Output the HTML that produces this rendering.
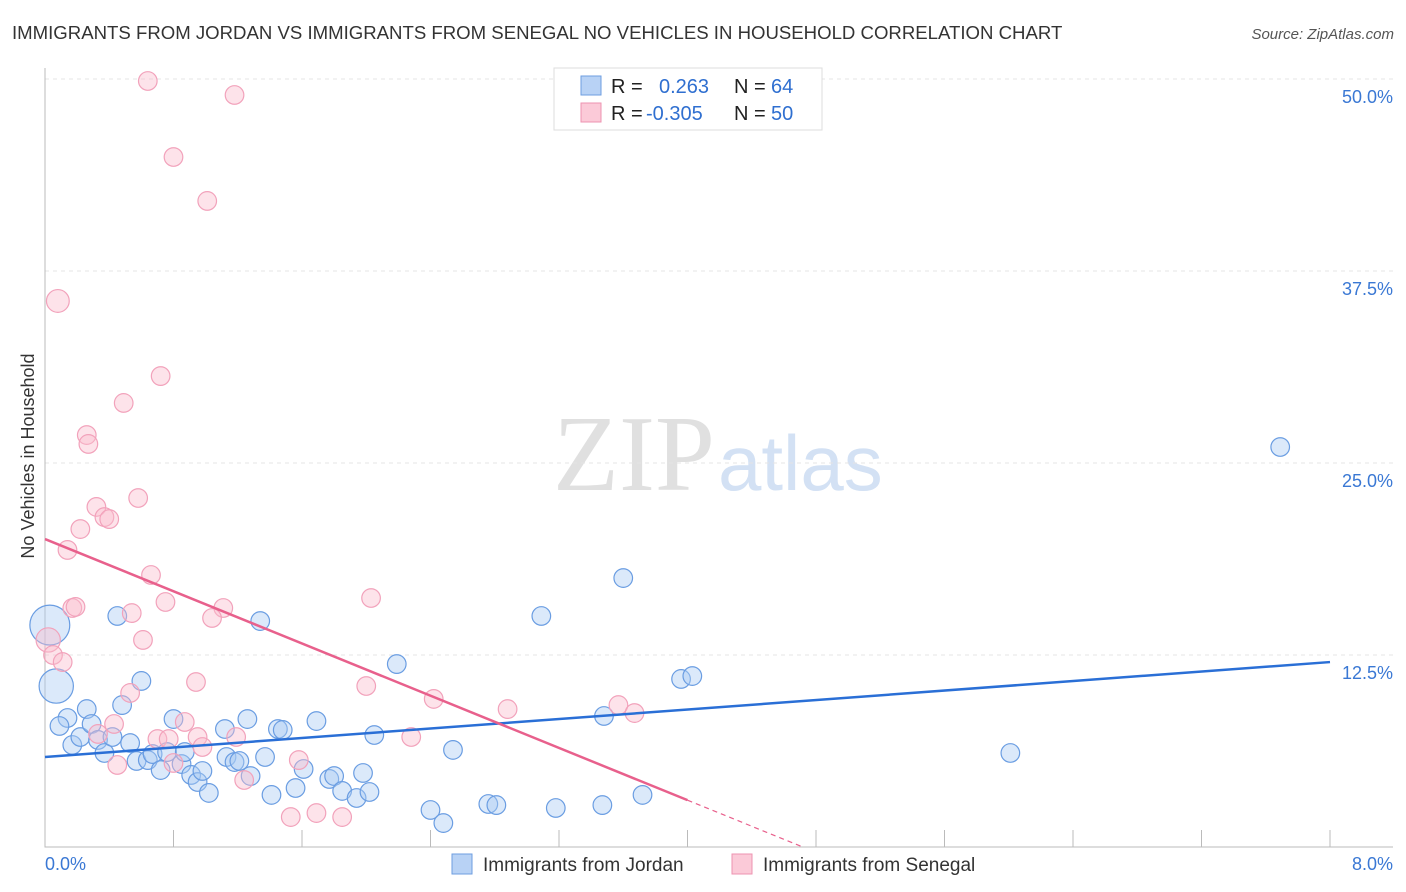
<!DOCTYPE html>
<html><head><meta charset="utf-8"><style>
body{margin:0;background:#fff;font-family:"Liberation Sans",sans-serif;}
svg{display:block}
</style></head><body>
<svg id="c" width="1406" height="892" xmlns="http://www.w3.org/2000/svg">
<text x="12" y="39" font-size="18.6" fill="#333">IMMIGRANTS FROM JORDAN VS IMMIGRANTS FROM SENEGAL NO VEHICLES IN HOUSEHOLD CORRELATION CHART</text>
<text x="1394" y="39" font-size="15" fill="#555" font-style="italic" text-anchor="end">Source: ZipAtlas.com</text>
<g><text x="553" y="490" font-family="Liberation Serif,serif" font-size="108" fill="#e0e0e0">ZIP</text><text x="718" y="490" font-size="78" fill="#d3e1f4">atlas</text></g>
<text transform="translate(34,456) rotate(-90)" font-size="18" fill="#333" text-anchor="middle">No Vehicles in Household</text>
<g id="grid"></g><g id="axes"></g><g id="pts"></g><g id="trend"></g>
<g>
<rect x="554" y="68" width="268" height="62" fill="#fff" stroke="#ddd"/>
<rect x="581" y="76" width="20" height="19" fill="#b8d2f5" stroke="#6e9ee0"/>
<rect x="581" y="103" width="20" height="19" fill="#fbcad8" stroke="#ee93b0"/>
<text x="611" y="93" font-size="20" fill="#222">R = <tspan x="659" fill="#2f6fd0">0.263</tspan><tspan x="734" fill="#222">N = </tspan><tspan x="771" fill="#2f6fd0">64</tspan></text>
<text x="611" y="120" font-size="20" fill="#222">R = <tspan x="646" fill="#2f6fd0">-0.305</tspan><tspan x="734" fill="#222">N = </tspan><tspan x="771" fill="#2f6fd0">50</tspan></text>
</g>
<g>
<rect x="452" y="854" width="20" height="20" fill="#b8d2f5" stroke="#6e9ee0"/>
<text x="483" y="871" font-size="19" fill="#333">Immigrants from Jordan</text>
<rect x="732" y="854" width="20" height="20" fill="#fbcad8" stroke="#ee93b0"/>
<text x="763" y="871" font-size="19" fill="#333">Immigrants from Senegal</text>
</g>
</svg>
<script>
const xTicks=[0,1,2,3,4,5,6,7,8];
const yTicks=[12.5,25,37.5,50];
const yTickLabels=["12.5%","25.0%","37.5%","50.0%"];
const jordanX=[.03,.07,.14,.09,.17,.26,.22,.29,.33,.37,.48,.42,.45,.53,.57,.60,.64,.67,.72,.80,.76,.85,.87,.91,.95,.98,1.02,1.12,1.13,1.18,1.21,1.26,1.28,1.34,1.37,1.41,1.45,1.48,1.56,1.61,1.69,1.77,1.80,1.85,1.94,1.98,2.02,2.05,2.19,2.40,2.48,2.54,2.76,2.81,3.09,3.18,3.47,3.48,3.60,3.72,3.96,4.03,6.01,7.69];
const jordanY=[14.45,10.48,8.40,7.88,6.64,8.98,7.16,8.01,6.97,6.12,9.24,7.16,15.04,6.77,5.60,10.81,5.66,6.05,5.01,8.33,6.18,5.40,6.18,4.69,4.23,4.95,3.52,7.68,5.86,5.53,5.60,8.33,4.62,14.71,5.86,3.39,7.68,7.62,3.84,5.08,8.20,4.43,4.62,3.65,3.19,4.82,3.58,7.29,11.91,2.41,1.56,6.32,2.80,2.73,15.04,2.54,2.73,8.53,17.51,3.39,10.94,11.13,6.12,26.04];
const jordanWeight=[4.6,3.4];
const senegalX=[.64,1.18,.80,1.01,.08,.72,.49,.26,.27,.58,.32,.37,.40,.22,.14,.66,2.03,.75,.17,.19,.54,1.11,1.04,.02,.05,.11,.61,.94,2.00,.53,2.42,2.88,3.57,3.67,.43,.87,.33,.70,.77,1.19,.95,.98,.80,2.28,1.58,1.24,.45,1.53,1.69,1.85];
const senegalY=[49.87,48.96,44.92,42.06,35.55,30.66,28.91,26.82,26.24,22.72,22.14,21.48,21.35,20.70,19.34,17.71,16.21,15.95,15.56,15.63,15.23,15.56,14.91,13.48,12.50,12.04,13.48,10.74,10.48,10.03,9.64,8.98,9.24,8.72,8.01,8.14,7.36,7.03,7.03,7.16,7.16,6.51,5.47,7.16,5.66,4.36,5.34,1.95,2.21,1.95];
const senegalWeight=[1,1,1,1,1.5,1,1,1,1,1,1,1,1,1,1,1,1,1,1,1,1,1,1,1.7];
const jordanTrend=[5.86,12.04];
const senegalTrend=[20.05,-4.25];
const NS="http://www.w3.org/2000/svg";
const X=v=>45+v/8*1285, Y=v=>847-v/12.5*192;
function mk(t,a,p){const e=document.createElementNS(NS,t);for(const k in a)e.setAttribute(k,a[k]);p.appendChild(e);return e;}
const grid=document.getElementById('grid'),axes=document.getElementById('axes'),pts=document.getElementById('pts'),tr=document.getElementById('trend');
yTicks.forEach((t,i)=>{
 const l=mk('line',{x1:45,x2:1393,y1:Y(t),y2:Y(t),stroke:'#e4e4e4','stroke-dasharray':'4,4'},grid);
 
 
 const tx=mk('text',{x:1393,y:Y(t)+24,'font-size':18,fill:'#3a78d4','text-anchor':'end'},grid);
 tx.textContent=yTickLabels[i];
 
 
});
const ax=mk('path',{d:'M45,68V847H1393',fill:'none',stroke:'#bbb'},axes);


for(let v=0;v<=8.01;v+=0.8){
 const tk=mk('line',{x1:X(v),x2:X(v),y1:830,y2:847,stroke:'#bbb'},axes);
 
 
}
const xl0=mk('text',{x:45,y:870,'font-size':18,fill:'#3a78d4'},axes);xl0.textContent=xTicks[0].toFixed(1)+'%';


const xl1=mk('text',{x:1393,y:870,'font-size':18,fill:'#3a78d4','text-anchor':'end'},axes);xl1.textContent=xTicks[8].toFixed(1)+'%';


jordanX.forEach((v,i)=>{
 const w=jordanWeight[i]||1;
 const c=mk('circle',{cx:X(v),cy:Y(jordanY[i]),r:9.3*Math.sqrt(w),fill:'rgba(170,202,242,0.42)',stroke:'#6a9de2','stroke-width':1.2},pts);
 
 
});
senegalX.forEach((v,i)=>{
 const w=senegalWeight[i]||1;
 const c=mk('circle',{cx:X(v),cy:Y(senegalY[i]),r:9.3*Math.sqrt(w),fill:'rgba(250,188,206,0.42)',stroke:'#f2a2bb','stroke-width':1.2},pts);
 
 
});
const jl=mk('line',{x1:X(0),y1:Y(jordanTrend[0]),x2:X(8),y2:Y(jordanTrend[1]),stroke:'#2a6fd6','stroke-width':2.5},tr);


const sy=x=>senegalTrend[0]+senegalTrend[1]*x, xz=-senegalTrend[0]/senegalTrend[1];
const sl=mk('line',{x1:X(0),y1:Y(sy(0)),x2:X(4),y2:Y(sy(4)),stroke:'#e8608c','stroke-width':2.5},tr);


const sd=mk('line',{x1:X(4),y1:Y(sy(4)),x2:X(xz),y2:Y(0),stroke:'#e8608c','stroke-width':1.2,'stroke-dasharray':'5,4'},tr);


</script>
</body></html>
